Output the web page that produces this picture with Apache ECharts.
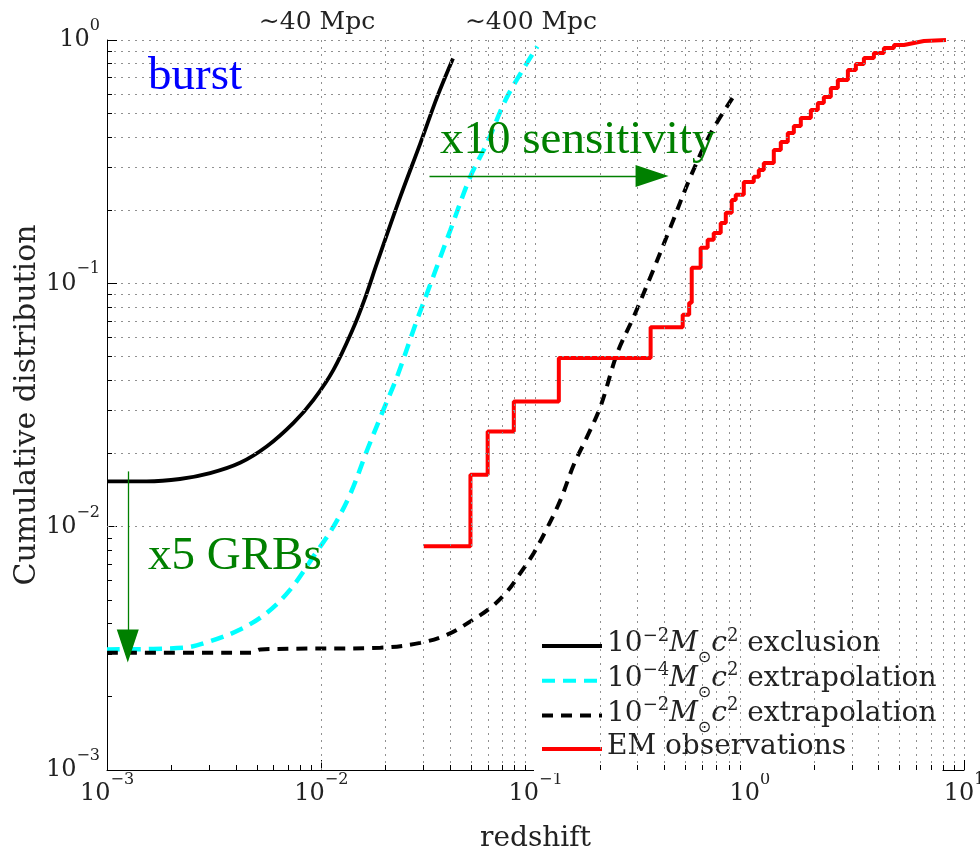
<!DOCTYPE html>
<html>
<head>
<meta charset="utf-8">
<script src="https://cdn.jsdelivr.net/npm/echarts@6/dist/echarts.min.js"></script>
<style>
  html, body { margin: 0; padding: 0; background: #fff; }
  #chart { width: 980px; height: 851px; }
</style>
</head>
<body>
<div id="chart"></div>
<script>
// ---- data ----
const exclusionZ = [0.001, 0.00153, 0.00219, 0.00303, 0.00418, 0.00558, 0.00742, 0.0092, 0.0114, 0.014, 0.0159, 0.0182, 0.0234, 0.029, 0.0348, 0.0412];
const exclusionP = [0.01535, 0.01535, 0.0157, 0.0166, 0.0183, 0.0214, 0.0267, 0.0332, 0.0441, 0.0644, 0.0855, 0.121, 0.227, 0.376, 0.585, 0.84];

const extrap4Z = [0.001, 0.00227, 0.00303, 0.00418, 0.00558, 0.00716, 0.0092, 0.0114, 0.0137, 0.0164, 0.0195, 0.0226, 0.028, 0.0312, 0.0401, 0.0497, 0.0594, 0.0738, 0.102];
const extrap4P = [0.00313, 0.00318, 0.00338, 0.00378, 0.00443, 0.00551, 0.00755, 0.0100, 0.0137, 0.0207, 0.0302, 0.0414, 0.0708, 0.0912, 0.166, 0.275, 0.377, 0.585, 0.94];

const extrap2Z = [0.001, 0.0047, 0.0052, 0.0189, 0.029, 0.0387, 0.0497, 0.0616, 0.0738, 0.0851, 0.0982, 0.1134, 0.1309, 0.151, 0.1744, 0.2012, 0.2408, 0.2877, 0.3446, 0.4276, 0.5299, 0.6578, 0.851];
const extrap2P = [0.00303, 0.00303, 0.00313, 0.00318, 0.00333, 0.0036, 0.00408, 0.00464, 0.00542, 0.00646, 0.0078, 0.00988, 0.0129, 0.018, 0.0235, 0.0312, 0.0517, 0.0731, 0.1067, 0.171, 0.275, 0.414, 0.597];

const emZ = [0.0301, 0.0497, 0.0598, 0.0792, 0.1285, 0.3446, 0.4864, 0.5216, 0.536, 0.590, 0.636, 0.679, 0.732, 0.773, 0.824, 0.860, 0.938, 1.044, 1.102, 1.163, 1.295, 1.396, 1.505, 1.606, 1.731, 1.928, 2.078, 2.217, 2.390, 2.577, 2.871, 3.128, 3.410, 3.797, 4.227, 4.710, 5.245, 5.84, 6.50, 8.24];
const emP = [0.0083, 0.01635, 0.0246, 0.0327, 0.0493, 0.066, 0.0742, 0.0832, 0.1158, 0.140, 0.151, 0.161, 0.177, 0.195, 0.220, 0.231, 0.261, 0.274, 0.292, 0.3125, 0.353, 0.381, 0.415, 0.443, 0.478, 0.516, 0.551, 0.583, 0.635, 0.685, 0.753, 0.797, 0.844, 0.884, 0.927, 0.954, 0.972, 0.99, 1.0, 1.0];

const seriesNames = ['1e-2 exclusion', '1e-4 extrapolation', '1e-2 extrapolation', 'EM observations'];

// tick decades and minor multipliers (log grid)
const decadesX = [1e-3, 1e-2, 1e-1, 1e0];
const decadesY = [1e-3, 1e-2, 1e-1];
const minorSteps = [2, 3, 4, 5, 6, 7, 8, 9];

// annotation arrows (data coords)
const arrowDownZ = [0.00125, 0.00125];
const arrowDownP = [0.01687, 0.00323];
const arrowRightZ = [0.032, 0.350];
const arrowRightP = [0.2763, 0.2763];

// ---- layout ----
const SERIF = '"DejaVu Serif", serif';
const TIMES = '"Liberation Serif", serif';
const TXT = '#222';
const gridBox = { left: 107, right: 16, top: 40, bottom: 81 };
const pxPerDecX = (980 - gridBox.left - gridBox.right) / 4;
const pxPerDecY = (851 - gridBox.top - gridBox.bottom) / 3;

const zip = (xs, ys) => xs.map((x, i) => [x, ys[i]]);

const minorX = [];
decadesX.forEach(d => minorSteps.forEach(m => minorX.push(+(d * m).toPrecision(3))));
const minorY = [];
decadesY.forEach(d => minorSteps.forEach(m => minorY.push(+(d * m).toPrecision(3))));

// short minor tick segments along the bottom and left axes
const tickLen = 5;
const minorTickLines = [];
minorX.forEach(v => minorTickLines.push([{ coord: [v, 1e-3] }, { coord: [v, 1e-3 * Math.pow(10, tickLen / pxPerDecY)] }]));
minorY.forEach(v => minorTickLines.push([{ coord: [1e-3, v] }, { coord: [1e-3 * Math.pow(10, tickLen / pxPerDecX), v] }]));

const tickRich = {
    b: { fontFamily: SERIF, fontSize: 24, lineHeight: 24, padding: [10, 0, 10, 0], color: TXT },
    s: { fontFamily: SERIF, fontSize: 16, lineHeight: 16, padding: [0, 0, 28, 0], color: TXT }
};
const powLabel = v => '{b|10}{s|' + String(Math.round(Math.log10(v))).replace('-', '\u2212') + '}';

const legendRich = {
    n: { fontFamily: SERIF, fontSize: 28, lineHeight: 30, padding: [4, 0, 8, 0], color: TXT },
    it: { fontFamily: SERIF, fontStyle: 'italic', fontSize: 28, lineHeight: 30, padding: [4, 0, 8, 0], color: TXT },
    sup: { fontFamily: SERIF, fontSize: 18, lineHeight: 18, padding: [2, 0, 22, 0], color: TXT },
    sub: { fontFamily: '"DejaVu Sans", sans-serif', fontSize: 16, lineHeight: 18, padding: [24, 0, 0, 0], color: TXT }
};
const legendText = {
    '1e-2 exclusion': '{n|10}{sup|\u22122}{it|M}{sub|\u2299}{it|c}{sup|2}{n| exclusion}',
    '1e-4 extrapolation': '{n|10}{sup|\u22124}{it|M}{sub|\u2299}{it|c}{sup|2}{n| extrapolation}',
    '1e-2 extrapolation': '{n|10}{sup|\u22122}{it|M}{sub|\u2299}{it|c}{sup|2}{n| extrapolation}',
    'EM observations': '{n|EM observations}'
};

const gridDots = { color: '#909090', type: [2, 5], width: 1 };

var myChart = echarts.init(document.getElementById('chart'));
var option = {
    animation: false,
    backgroundColor: '#fff',
    grid: Object.assign({ containLabel: false, outerBoundsMode: 'none' }, gridBox),
    xAxis: {
        type: 'log', logBase: 10, min: 1e-3, max: 10,
        name: 'redshift', nameLocation: 'middle', nameGap: 55, nameMoveOverlap: false,
        nameTextStyle: { fontFamily: SERIF, fontSize: 28, color: TXT },
        axisLine: { lineStyle: { color: '#000', width: 1 } },
        axisTick: { inside: true, length: 10, lineStyle: { color: '#000' } },
        axisLabel: { margin: 12, formatter: powLabel, rich: tickRich, showMaxLabel: true },
        splitLine: { show: true, lineStyle: gridDots }
    },
    yAxis: {
        type: 'log', logBase: 10, min: 1e-3, max: 1,
        name: 'Cumulative distribution', nameLocation: 'middle', nameGap: 65, nameMoveOverlap: false,
        nameTextStyle: { fontFamily: SERIF, fontSize: 30, color: TXT },
        axisLine: { show: true, lineStyle: { color: '#000', width: 1 } },
        axisTick: { show: true, inside: true, length: 10, lineStyle: { color: '#000' } },
        axisLabel: { margin: 7, formatter: powLabel, rich: tickRich },
        splitLine: { show: true, lineStyle: gridDots }
    },
    legend: {
        data: seriesNames,
        orient: 'vertical', left: 534, top: 621,
        padding: [4, 6, 4, 6], backgroundColor: '#fff',
        itemWidth: 60, itemHeight: 14, itemGap: -7.3,
        itemStyle: { opacity: 0, borderWidth: 0 },
        lineStyle: { width: 4 },
        formatter: name => legendText[name],
        textStyle: { rich: legendRich }
    },
    series: [
        {
            name: 'grid', type: 'line', data: [], z: 1, silent: true,
            markLine: {
                silent: true, symbol: ['none', 'none'], label: { show: false },
                emphasis: { disabled: true },
                lineStyle: gridDots,
                data: minorX.map(v => ({ xAxis: v })).concat(minorY.map(v => ({ yAxis: v })))
            }
        },
        {
            name: 'ticks', type: 'line', data: [], z: 1, silent: true,
            markLine: {
                silent: true, symbol: ['none', 'none'], label: { show: false },
                emphasis: { disabled: true },
                lineStyle: { color: '#000', type: 'solid', width: 1 },
                data: minorTickLines
            }
        },
        {
            name: seriesNames[0], type: 'line', showSymbol: false, symbol: 'none', z: 3, smooth: 0.35,
            data: zip(exclusionZ, exclusionP),
            lineStyle: { color: '#000', width: 3.8 }, itemStyle: { color: '#000' }
        },
        {
            name: seriesNames[1], type: 'line', showSymbol: false, symbol: 'none', z: 3, smooth: 0.35,
            data: zip(extrap4Z, extrap4P),
            lineStyle: { color: '#00ffff', width: 4.5, type: [13, 8] }, itemStyle: { color: '#00ffff' }
        },
        {
            name: seriesNames[2], type: 'line', showSymbol: false, symbol: 'none', z: 3, smooth: 0.35,
            data: zip(extrap2Z, extrap2P),
            lineStyle: { color: '#000', width: 4, type: [11, 8] }, itemStyle: { color: '#000' }
        },
        {
            name: seriesNames[3], type: 'line', showSymbol: false, symbol: 'none', z: 3,
            step: 'end',
            data: zip(emZ, emP),
            lineStyle: { color: '#ff0000', width: 4 }, itemStyle: { color: '#ff0000' }
        },
        {
            name: 'arrows', type: 'line', data: [], z: 4, silent: true,
            markLine: {
                silent: true, symbol: ['none', 'triangle'], symbolSize: [22, 33],
                label: { show: false }, emphasis: { disabled: true },
                lineStyle: { color: '#008000', type: 'solid', width: 1.3 },
                itemStyle: { color: '#008000' },
                data: [
                    [{ coord: [arrowDownZ[0], arrowDownP[0]] }, { coord: [arrowDownZ[1], arrowDownP[1]] }],
                    [{ coord: [arrowRightZ[0], arrowRightP[0]] }, { coord: [arrowRightZ[1], arrowRightP[1]] }]
                ]
            }
        }
    ],
    graphic: [
        { type: 'text', x: 148, y: 77, z: 10, style: { text: 'burst', font: '47px ' + TIMES, fill: '#0000ff', verticalAlign: 'middle' } },
        { type: 'text', x: 440, y: 141, z: 10, style: { text: 'x10 sensitivity', font: '47px ' + TIMES, fill: '#008000', verticalAlign: 'middle' } },
        { type: 'text', x: 148, y: 557, z: 10, style: { text: 'x5 GRBs', font: '47px ' + TIMES, fill: '#008000', verticalAlign: 'middle' } },
        { type: 'text', x: 317, y: 22, z: 10, style: { text: '\u223C40 Mpc', font: '25px ' + SERIF, fill: TXT, align: 'center', verticalAlign: 'middle' } },
        { type: 'text', x: 531, y: 22, z: 10, style: { text: '\u223C400 Mpc', font: '25px ' + SERIF, fill: TXT, align: 'center', verticalAlign: 'middle' } }
    ]
};
myChart.setOption(option);
window.addEventListener('resize', () => {
    myChart.resize();
});
</script>
</body>
</html>
